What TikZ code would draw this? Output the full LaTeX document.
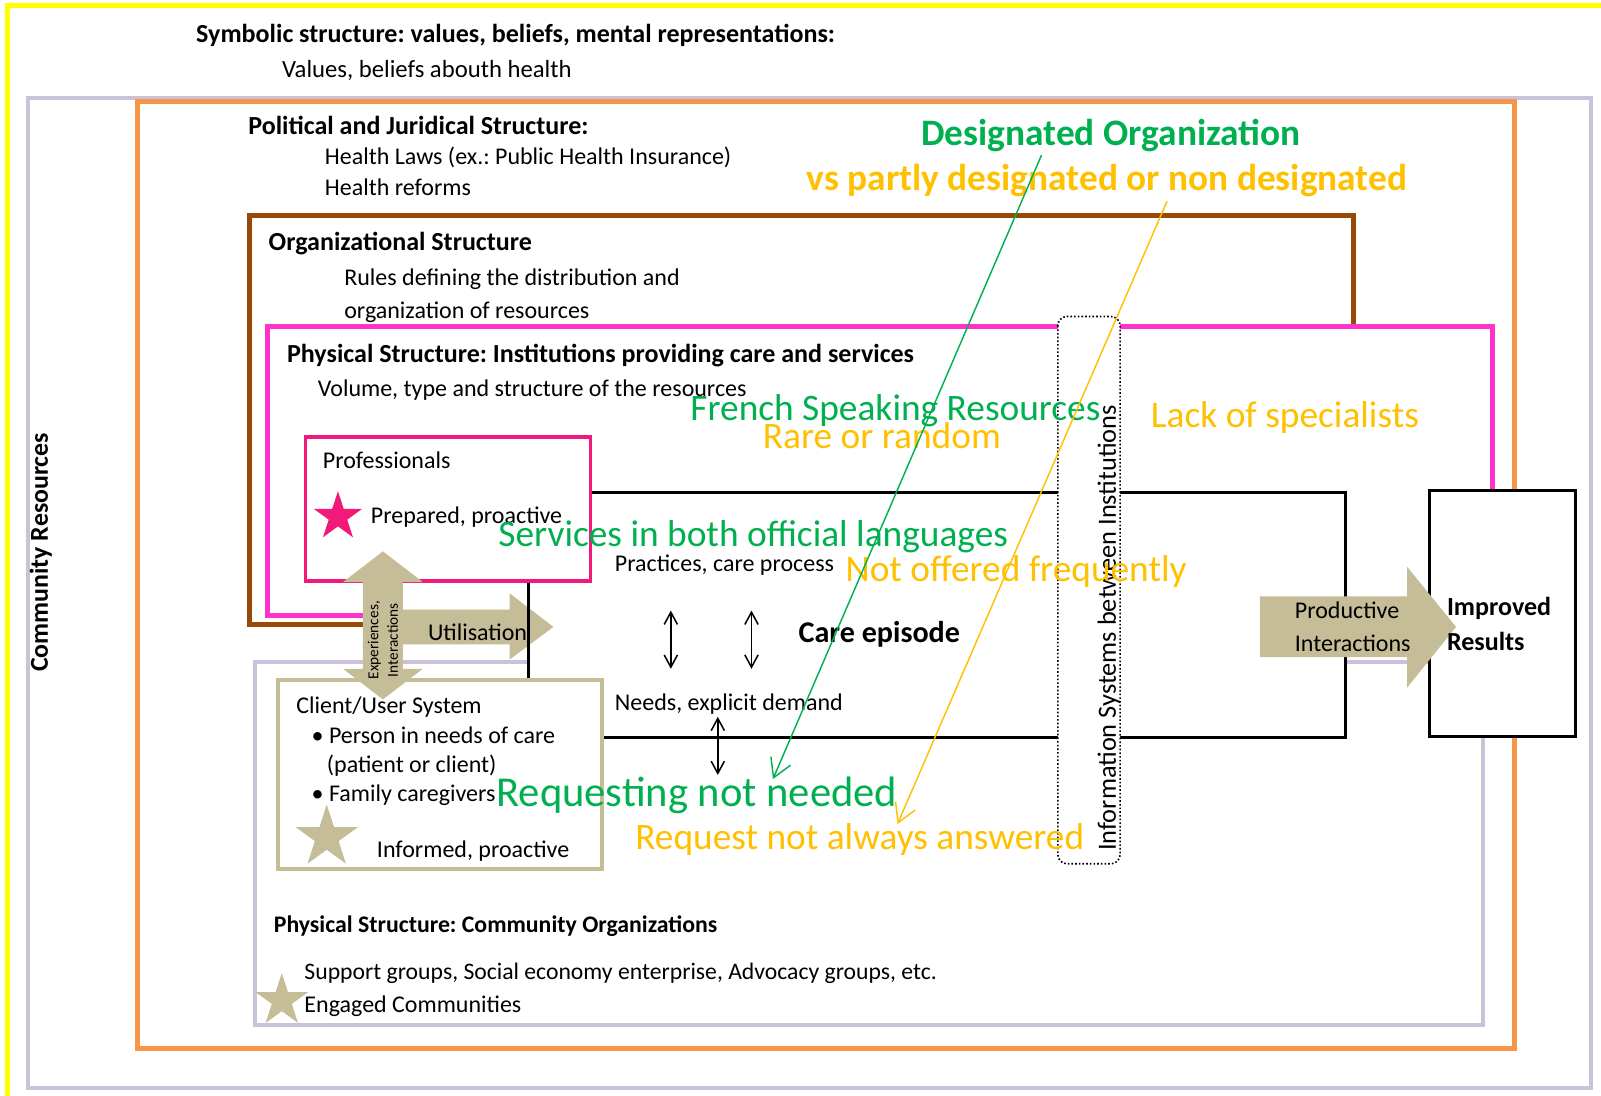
\documentclass[tikz,border=0pt]{standalone}
\usepackage{fontspec}
\setmainfont{Carlito}
\usetikzlibrary{shapes.geometric,arrows.meta}

\definecolor{yellowC}{HTML}{FFFF00}
\definecolor{lavC}{HTML}{CCC1DA}
\definecolor{orangeC}{HTML}{F79646}
\definecolor{brownC}{HTML}{984807}
\definecolor{pinkC}{HTML}{FF33CC}
\definecolor{profC}{HTML}{F2197A}
\definecolor{tanC}{HTML}{C4BD97}
\definecolor{greenC}{HTML}{00B050}
\definecolor{goldC}{HTML}{FFC000}

\tikzset{
  frame/.style={line width=#1, fill=white},
  body/.style={anchor=mid west, inner sep=0pt, font=\fontsize{23.5}{28}\selectfont},
  head/.style={anchor=mid west, inner sep=0pt, font=\fontsize{25.5}{30}\selectfont\bfseries},
  grn/.style={anchor=mid west, inner sep=0pt, text=greenC, font=\fontsize{36.6}{40}\selectfont},
  gld/.style={anchor=mid west, inner sep=0pt, text=goldC, font=\fontsize{36.6}{40}\selectfont},
  starmark/.style={star, star points=5, star point ratio=2.618, inner sep=0pt, draw=none, fill=#1},
  dbl/.style={{Straight Barb[length=12pt,width=13pt]}-{Straight Barb[length=12pt,width=13pt]}, line width=1.5pt},
  pointer/.style={-{Straight Barb[length=18pt,width=21pt]}, line width=1.4pt},
}

\begin{document}
\frenchspacing
\begin{tikzpicture}[x=1pt,y=-1pt]
\useasboundingbox (0,0) rectangle (1568,1073);
\clip (0,0) rectangle (1568,1073);
\fill[white] (0,0) rectangle (1568,1073);

% nested structure frames
\draw[yellowC, line width=5pt] (7,5) rectangle (1600,1100);
\draw[lavC, frame=4pt] (27,96) rectangle (1558,1066);
\draw[orangeC, frame=5pt] (135,99) rectangle (1483,1027);
\draw[brownC, frame=5pt] (244,211) rectangle (1326,612);
\draw[pinkC, frame=5pt] (262,320) rectangle (1462,603);
\draw[lavC, frame=4pt] (250,648) rectangle (1452,1004);

% care episode box (fill first, border after the utilisation arrow)
\fill[white] (518,482) rectangle (1318,722);

% utilisation arrow
\fill[tanC] (392,597) -- (499,597) -- (499,581) -- (542,614) -- (499,646) -- (499,631) -- (392,631) -- cycle;

\draw[line width=3pt] (518,482) rectangle (1318,722);

% information systems band
\draw[dotted, line width=1.6pt, fill=white, rounded corners=9pt] (1036,310) rectangle (1097,846);

% improved results box
\node[draw, line width=3pt, fill=white, minimum width=143pt, minimum height=241pt, inner sep=0pt] (res) at (1471.5,600.5) {};

% professionals and client boxes
\draw[profC, frame=3pt] (299,428) rectangle (578,569);
\draw[tanC, frame=4pt] (272,666) rectangle (590,851);

% experiences / interactions two-way arrow
\fill[tanC] (375,540) -- (414,570) -- (394.5,570) -- (394.5,655) -- (414,655) -- (375,685)
  -- (336,655) -- (355.5,655) -- (355.5,570) -- (336,570) -- cycle;

% productive interactions arrow
\fill[tanC] (1234,584) -- (1378,584) -- (1378,555) -- (1426,614) -- (1378,673.5) -- (1378,643.5) -- (1234,643.5) -- cycle;

% stars
\node[starmark=profC, minimum size=50pt] (s1) at (331,506) {};
\node[starmark=tanC, minimum size=64pt] (s2) at (320,820) {};
\node[starmark=tanC, minimum size=54pt] (s3) at (276,980) {};

% black texts
\node[head] (t1) at (192,39) {Symbolic structure: values, beliefs, mental representations:};
\node[body, font=\fontsize{24.2}{28}\selectfont] (t2) at (276,74) {Values, beliefs abouth health};
\node[head] (t3) at (243,129) {Political and Juridical Structure:};
\node[body] (t4) at (318,159) {Health Laws (ex.: Public Health Insurance)};
\node[body] (t5) at (318,189) {Health reforms};
\node[head] (t6) at (263,243) {Organizational Structure};
\node[body] (t7) at (337,277) {Rules defining the distribution and};
\node[body] (t8) at (337,310) {organization of resources};
\node[head] (t9) at (281,353) {Physical Structure: Institutions providing care and services};
\node[body] (t10) at (311,386) {Volume, type and structure of the resources};
\node[body] (t11) at (316,456) {Professionals};
\node[body] (t12) at (363,510) {Prepared, proactive};
\node[body] (t13) at (602,557) {Practices, care process};
\node[anchor=mid west, inner sep=0pt, font=\fontsize{29.5}{33}\selectfont\bfseries] (t14) at (782,627) {Care episode};
\node[body] (t15) at (602,693) {Needs, explicit demand};
\node[body] (t16) at (419,625) {Utilisation};
\node[rotate=90, inner sep=0pt, align=center, font=\fontsize{15}{19}\selectfont] (t17) at (375,627) {Experiences,\\Interactions};
\node[body] (t18) at (290,696) {Client/User System};
\node[body] (t19) at (305,726) {\textbullet\ Person in needs of care};
\node[body] (t20) at (320,754) {(patient or client)};
\node[body] (t21) at (305,783) {\textbullet\ Family caregivers};
\node[body] (t22) at (369,837) {Informed, proactive};
\node[head, font=\fontsize{23.3}{28}\selectfont\bfseries] (t23) at (268,911) {Physical Structure: Community Organizations};
\node[body, font=\fontsize{23.2}{28}\selectfont] (t24) at (298,957) {Support groups, Social economy enterprise, Advocacy groups, etc.};
\node[body] (t25) at (298,989) {Engaged Communities};
\node[rotate=90, inner sep=0pt, font=\fontsize{25.3}{29}\selectfont\bfseries] (t26) at (40,541) {Community Resources};
\node[rotate=90, inner sep=0pt, font=\fontsize{25.8}{29}\selectfont] (t27) at (1086,615) {Information Systems between Institutions};
\node[body] (t28) at (1268,603) {Productive};
\node[body] (t29) at (1268,636) {Interactions};
\node[head] (t30) at (1417,600) {Improved};
\node[head] (t31) at (1417,635) {Results};

% two-way links inside the care episode
\coordinate (a1) at (657,598); \coordinate (b1) at (657,655);
\coordinate (a2) at (736,598); \coordinate (b2) at (736,655);
\coordinate (a3) at (703,702); \coordinate (b3) at (703,759);
\draw[dbl] (a1) -- (b1);
\draw[dbl] (a2) -- (b2);
\draw[dbl] (a3) -- (b3);

% coloured annotations
\node[grn, font=\fontsize{36.6}{40}\selectfont\bfseries] (g1) at (902,140) {Designated Organization};
\node[gld, font=\fontsize{36.6}{40}\selectfont\bfseries] (o1) at (790,184) {vs partly designated or non designated};
\node[grn] (g2) at (676,409) {French Speaking Resources};
\node[gld] (o2) at (747,437) {Rare or random};
\node[gld] (o3) at (1127,416) {Lack of specialists};
\node[grn] (g3) at (488,533) {Services in both official languages};
\node[gld] (o4) at (828,567) {Not offered frequently};
\node[grn, font=\fontsize{41.7}{45}\selectfont] (g4) at (486,787) {Requesting not needed};
\node[gld] (o5) at (622,830) {Request not always answered};

% pointers from the designation labels
\coordinate (gs) at (1020,152); \coordinate (ge) at (757,763);
\coordinate (os) at (1143,197); \coordinate (oe) at (879,807);
\draw[pointer, greenC] (gs) -- (ge);
\draw[pointer, goldC] (os) -- (oe);
\end{tikzpicture}
\end{document}
